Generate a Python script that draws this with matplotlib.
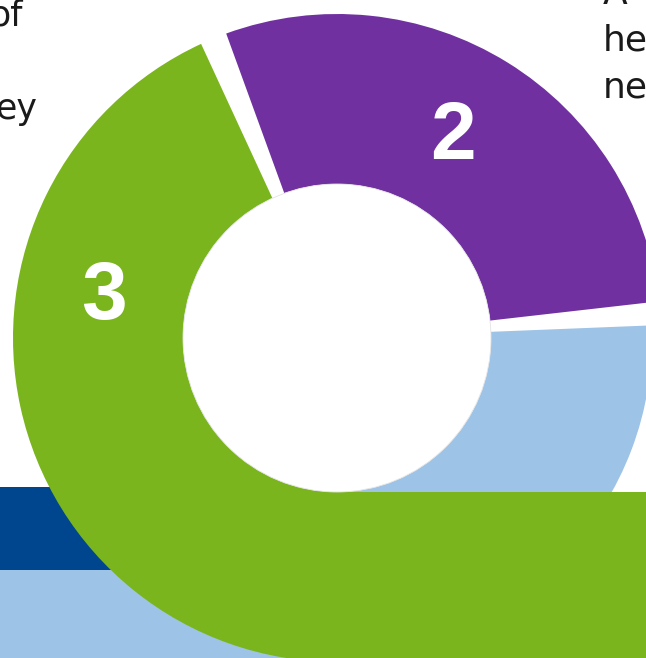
import matplotlib
matplotlib.use('Agg')
import matplotlib.pyplot as plt
from matplotlib.patches import Circle

W, H = 646, 658

# donut segments, in degrees, counter-clockwise from the purple one
segment_labels = ['2', '', '3', '1', '']
segment_degrees = [103.5, 4.8, 155.2, 92.3, 4.2]
segment_colors = ['#7030A0', 'none', '#7AB51D', '#9DC3E6', 'none']

# background bands (pixel rows, top -> bottom)
band_tops = [487, 570]
band_bottoms = [570, 658]
band_colors = ['#00468F', '#9DC3E6']

left_lines = ['of', '', 'ey']
right_lines = ['A', 'he', 'ne']

cx, cy = 337, H - 338
r_out, r_in = 324, 154

fig = plt.figure(figsize=(W / 100, H / 100), dpi=100)
ax = fig.add_axes([0, 0, 1, 1])

for top, bot, col in zip(band_tops, band_bottoms, band_colors):
    ax.barh(H - bot, 300, height=bot - top, left=0, align='edge',
            color=col, linewidth=0, zorder=0)

wedges, _ = ax.pie(segment_degrees, colors=segment_colors, startangle=6.5,
                   counterclock=True, center=(cx, cy), radius=r_out,
                   wedgeprops=dict(width=r_out - r_in, linewidth=0))
for w in wedges:
    w.set_zorder(1)
# the light blue slice sits a bit smaller
wedges[3].set_radius(315)
wedges[3].set_width(315 - r_in)

# green tail running out to the right
ax.bar(cx, r_out - r_in, width=W - cx + 5, bottom=cy - r_out, align='edge',
       color=segment_colors[2], linewidth=0, zorder=3)

ax.add_patch(Circle((cx, cy), r_in, facecolor='white', edgecolor='#e2e2e2',
                    linewidth=0.6, zorder=4))

ax.text(453, H - 159, segment_labels[0], ha='center', va='baseline',
        fontsize=59, fontweight='bold', family='Liberation Sans',
        color='white', zorder=5)
ax.text(103.5, H - 319, segment_labels[2], ha='center', va='baseline',
        fontsize=59, fontweight='bold', family='Liberation Sans',
        color='white', zorder=5)

left_right_edges = [23, 23, 37]
for i, s in enumerate(left_lines):
    if s:
        ax.text(left_right_edges[i], H - (25 + 47 * i), s, ha='right',
                va='baseline', fontsize=25, family='DejaVu Sans',
                color='#1a1a1a', zorder=5)
for i, s in enumerate(right_lines):
    ax.text(603, H - (4 + 46.5 * i), s, ha='left', va='baseline',
            fontsize=26, family='DejaVu Sans', color='#1a1a1a', zorder=5)

ax.set_xlim(0, W)
ax.set_ylim(0, H)
ax.set_aspect('auto')
ax.axis('off')

fig.savefig('out.png', dpi=100)
